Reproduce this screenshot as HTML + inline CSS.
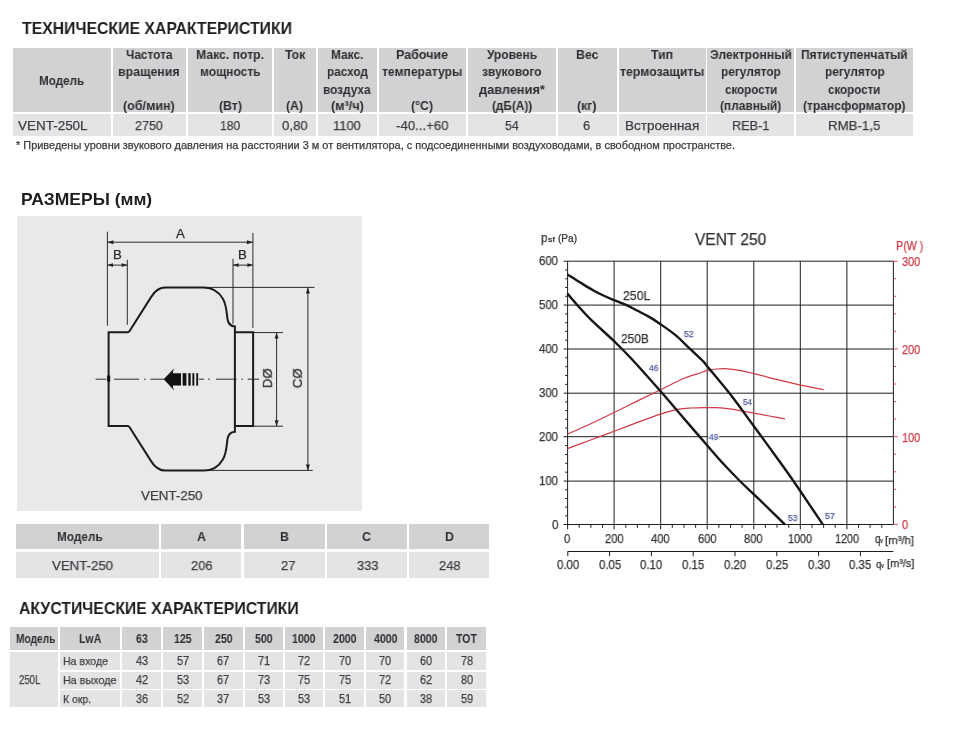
<!DOCTYPE html>
<html lang="ru"><head><meta charset="utf-8"><title>VENT-250</title>
<style>
html,body{margin:0;padding:0;background:#fff}
body{width:970px;height:739px;position:relative;overflow:hidden;font-family:"Liberation Sans", sans-serif}
.r{position:absolute}
.t{will-change:transform;position:absolute;white-space:nowrap;line-height:1;font-family:"Liberation Sans", sans-serif}
svg{position:absolute;left:0;top:0}
</style></head><body>
<div class="r" style="left:13.0px;top:48.0px;width:97.5px;height:64.0px;background:#d0d2d3"></div><div class="r" style="left:13.0px;top:114.0px;width:97.5px;height:22.4px;background:#e3e4e5"></div><div class="r" style="left:112.5px;top:48.0px;width:73.5px;height:64.0px;background:#d0d2d3"></div><div class="r" style="left:112.5px;top:114.0px;width:73.5px;height:22.4px;background:#e3e4e5"></div><div class="r" style="left:188.0px;top:48.0px;width:84.0px;height:64.0px;background:#d0d2d3"></div><div class="r" style="left:188.0px;top:114.0px;width:84.0px;height:22.4px;background:#e3e4e5"></div><div class="r" style="left:274.0px;top:48.0px;width:42.0px;height:64.0px;background:#d0d2d3"></div><div class="r" style="left:274.0px;top:114.0px;width:42.0px;height:22.4px;background:#e3e4e5"></div><div class="r" style="left:318.0px;top:48.0px;width:58.5px;height:64.0px;background:#d0d2d3"></div><div class="r" style="left:318.0px;top:114.0px;width:58.5px;height:22.4px;background:#e3e4e5"></div><div class="r" style="left:378.5px;top:48.0px;width:87.5px;height:64.0px;background:#d0d2d3"></div><div class="r" style="left:378.5px;top:114.0px;width:87.5px;height:22.4px;background:#e3e4e5"></div><div class="r" style="left:468.0px;top:48.0px;width:87.5px;height:64.0px;background:#d0d2d3"></div><div class="r" style="left:468.0px;top:114.0px;width:87.5px;height:22.4px;background:#e3e4e5"></div><div class="r" style="left:557.5px;top:48.0px;width:59.0px;height:64.0px;background:#d0d2d3"></div><div class="r" style="left:557.5px;top:114.0px;width:59.0px;height:22.4px;background:#e3e4e5"></div><div class="r" style="left:618.5px;top:48.0px;width:87.0px;height:64.0px;background:#d0d2d3"></div><div class="r" style="left:618.5px;top:114.0px;width:87.0px;height:22.4px;background:#e3e4e5"></div><div class="r" style="left:707.3px;top:48.0px;width:86.7px;height:64.0px;background:#d0d2d3"></div><div class="r" style="left:707.3px;top:114.0px;width:86.7px;height:22.4px;background:#e3e4e5"></div><div class="r" style="left:796.0px;top:48.0px;width:117.2px;height:64.0px;background:#d0d2d3"></div><div class="r" style="left:796.0px;top:114.0px;width:117.2px;height:22.4px;background:#e3e4e5"></div><div class="r" style="left:17.0px;top:216.0px;width:345.0px;height:295.0px;background:#e9e9ea"></div><div class="r" style="left:16.0px;top:523.6px;width:142.5px;height:25.0px;background:#d0d2d3"></div><div class="r" style="left:16.0px;top:552.0px;width:142.5px;height:26.0px;background:#e3e4e5"></div><div class="r" style="left:161.0px;top:523.6px;width:80.0px;height:25.0px;background:#d0d2d3"></div><div class="r" style="left:161.0px;top:552.0px;width:80.0px;height:26.0px;background:#e3e4e5"></div><div class="r" style="left:243.5px;top:523.6px;width:81.0px;height:25.0px;background:#d0d2d3"></div><div class="r" style="left:243.5px;top:552.0px;width:81.0px;height:26.0px;background:#e3e4e5"></div><div class="r" style="left:327.0px;top:523.6px;width:79.5px;height:25.0px;background:#d0d2d3"></div><div class="r" style="left:327.0px;top:552.0px;width:79.5px;height:26.0px;background:#e3e4e5"></div><div class="r" style="left:409.0px;top:523.6px;width:80.4px;height:25.0px;background:#d0d2d3"></div><div class="r" style="left:409.0px;top:552.0px;width:80.4px;height:26.0px;background:#e3e4e5"></div><div class="r" style="left:10.3px;top:627.4px;width:47.9px;height:22.4px;background:#d0d2d3"></div><div class="r" style="left:10.3px;top:652.0px;width:47.9px;height:54.5px;background:#e3e4e5"></div><div class="r" style="left:60.2px;top:627.4px;width:60.0px;height:22.4px;background:#d0d2d3"></div><div class="r" style="left:60.2px;top:652.0px;width:60.0px;height:18.0px;background:#e3e4e5"></div><div class="r" style="left:60.2px;top:671.5px;width:60.0px;height:17.0px;background:#e3e4e5"></div><div class="r" style="left:60.2px;top:690.0px;width:60.0px;height:16.5px;background:#e3e4e5"></div><div class="r" style="left:122.2px;top:627.4px;width:39.0px;height:22.4px;background:#d0d2d3"></div><div class="r" style="left:122.2px;top:652.0px;width:39.0px;height:18.0px;background:#e3e4e5"></div><div class="r" style="left:122.2px;top:671.5px;width:39.0px;height:17.0px;background:#e3e4e5"></div><div class="r" style="left:122.2px;top:690.0px;width:39.0px;height:16.5px;background:#e3e4e5"></div><div class="r" style="left:163.2px;top:627.4px;width:39.0px;height:22.4px;background:#d0d2d3"></div><div class="r" style="left:163.2px;top:652.0px;width:39.0px;height:18.0px;background:#e3e4e5"></div><div class="r" style="left:163.2px;top:671.5px;width:39.0px;height:17.0px;background:#e3e4e5"></div><div class="r" style="left:163.2px;top:690.0px;width:39.0px;height:16.5px;background:#e3e4e5"></div><div class="r" style="left:204.2px;top:627.4px;width:38.5px;height:22.4px;background:#d0d2d3"></div><div class="r" style="left:204.2px;top:652.0px;width:38.5px;height:18.0px;background:#e3e4e5"></div><div class="r" style="left:204.2px;top:671.5px;width:38.5px;height:17.0px;background:#e3e4e5"></div><div class="r" style="left:204.2px;top:690.0px;width:38.5px;height:16.5px;background:#e3e4e5"></div><div class="r" style="left:244.7px;top:627.4px;width:38.5px;height:22.4px;background:#d0d2d3"></div><div class="r" style="left:244.7px;top:652.0px;width:38.5px;height:18.0px;background:#e3e4e5"></div><div class="r" style="left:244.7px;top:671.5px;width:38.5px;height:17.0px;background:#e3e4e5"></div><div class="r" style="left:244.7px;top:690.0px;width:38.5px;height:16.5px;background:#e3e4e5"></div><div class="r" style="left:285.2px;top:627.4px;width:38.0px;height:22.4px;background:#d0d2d3"></div><div class="r" style="left:285.2px;top:652.0px;width:38.0px;height:18.0px;background:#e3e4e5"></div><div class="r" style="left:285.2px;top:671.5px;width:38.0px;height:17.0px;background:#e3e4e5"></div><div class="r" style="left:285.2px;top:690.0px;width:38.0px;height:16.5px;background:#e3e4e5"></div><div class="r" style="left:325.2px;top:627.4px;width:39.0px;height:22.4px;background:#d0d2d3"></div><div class="r" style="left:325.2px;top:652.0px;width:39.0px;height:18.0px;background:#e3e4e5"></div><div class="r" style="left:325.2px;top:671.5px;width:39.0px;height:17.0px;background:#e3e4e5"></div><div class="r" style="left:325.2px;top:690.0px;width:39.0px;height:16.5px;background:#e3e4e5"></div><div class="r" style="left:366.2px;top:627.4px;width:38.3px;height:22.4px;background:#d0d2d3"></div><div class="r" style="left:366.2px;top:652.0px;width:38.3px;height:18.0px;background:#e3e4e5"></div><div class="r" style="left:366.2px;top:671.5px;width:38.3px;height:17.0px;background:#e3e4e5"></div><div class="r" style="left:366.2px;top:690.0px;width:38.3px;height:16.5px;background:#e3e4e5"></div><div class="r" style="left:406.5px;top:627.4px;width:38.7px;height:22.4px;background:#d0d2d3"></div><div class="r" style="left:406.5px;top:652.0px;width:38.7px;height:18.0px;background:#e3e4e5"></div><div class="r" style="left:406.5px;top:671.5px;width:38.7px;height:17.0px;background:#e3e4e5"></div><div class="r" style="left:406.5px;top:690.0px;width:38.7px;height:16.5px;background:#e3e4e5"></div><div class="r" style="left:447.2px;top:627.4px;width:38.8px;height:22.4px;background:#d0d2d3"></div><div class="r" style="left:447.2px;top:652.0px;width:38.8px;height:18.0px;background:#e3e4e5"></div><div class="r" style="left:447.2px;top:671.5px;width:38.8px;height:17.0px;background:#e3e4e5"></div><div class="r" style="left:447.2px;top:690.0px;width:38.8px;height:16.5px;background:#e3e4e5"></div>
<svg width="970" height="739" viewBox="0 0 970 739">
<g stroke="#222" stroke-width="0.95" fill="none">
<line x1="107.4" y1="231.7" x2="107.4" y2="325.7"/>
<line x1="252.9" y1="233" x2="252.9" y2="328"/>
<line x1="127.3" y1="259.8" x2="127.3" y2="324.8"/>
<line x1="233" y1="258.8" x2="233" y2="323.8"/>
<line x1="107.4" y1="242.2" x2="252.9" y2="242.2"/>
<line x1="107.4" y1="265.1" x2="127.3" y2="265.1"/>
<line x1="233" y1="265.1" x2="252.9" y2="265.1"/>
<line x1="203.7" y1="287.4" x2="314.5" y2="287.4"/>
<line x1="208.8" y1="470.4" x2="312.7" y2="470.4"/>
<line x1="307.9" y1="287.4" x2="307.9" y2="470.4"/>
<line x1="253" y1="332.6" x2="283" y2="332.6"/>
<line x1="253" y1="426.2" x2="283" y2="426.2"/>
<line x1="276.6" y1="332.6" x2="276.6" y2="426.2"/>
<line x1="95.6" y1="379.2" x2="106.3" y2="379.2"/>
<line x1="114" y1="379.2" x2="139" y2="379.2"/>
<line x1="144" y1="379.2" x2="145.6" y2="379.2"/>
<line x1="150.3" y1="379.2" x2="164" y2="379.2"/>
<line x1="199" y1="379.2" x2="204" y2="379.2"/>
<line x1="208" y1="379.2" x2="209.6" y2="379.2"/>
<line x1="216" y1="379.2" x2="236.6" y2="379.2"/>
<line x1="241.3" y1="379.2" x2="242.9" y2="379.2"/>
<line x1="247.7" y1="379.2" x2="259" y2="379.2"/>
</g>
<g fill="#222">
<polygon points="107.4,242.2 113.4,240.2 113.4,244.2"/>
<polygon points="252.9,242.2 246.9,244.2 246.9,240.2"/>
<polygon points="107.4,265.1 113.0,263.2 113.0,267.0"/>
<polygon points="127.3,265.1 121.7,267.0 121.7,263.2"/>
<polygon points="233.0,265.1 238.6,263.2 238.6,267.0"/>
<polygon points="252.9,265.1 247.3,267.0 247.3,263.2"/>
<polygon points="307.9,287.4 309.9,293.4 305.9,293.4"/>
<polygon points="307.9,470.4 305.9,464.4 309.9,464.4"/>
<polygon points="276.6,332.6 278.6,338.6 274.6,338.6"/>
<polygon points="276.6,426.2 274.6,420.2 278.6,420.2"/>
</g>
<path d="M108.6,332.2 H127.6 Q128.9,332.2 129.6,331 L151.4,296.6 Q157.06,287.6 165.5,287.6 H203.7 C212,287.6 219,292 223,299 C226.5,305 226.5,312 227.4,318.5 C228,323 230,326.3 234.9,326.5 V431.7 C230,431.9 228,435.2 227.4,439.7 C226.5,446.2 226.5,453.2 223,459.2 C219,466.2 212,470.6 203.7,470.6 H165.5 Q157.06,470.6 151.4,461.6 L129.6,427.2 Q128.9,426.0 127.6,426.0 H108.6 Z" fill="none" stroke="#1c1c1c" stroke-width="2.0" stroke-linejoin="miter"/>
<path d="M234.9,332.2 H253.1 V426.0 H234.9" fill="none" stroke="#1c1c1c" stroke-width="2.0"/>
<rect x="107.1" y="375.6" width="3.1" height="6" fill="#111"/>
<g fill="#111">
<path d="M163.7,379.3 L174.2,368.3 Q172.6,371.5 172.9,373.2 H181 V385.6 H172.9 Q172.6,387.3 174.2,390.4 Z"/>
<rect x="182.6" y="373.2" width="3.8" height="12.4"/>
<rect x="188.3" y="373.2" width="2.4" height="12.4"/>
<rect x="192.4" y="373.2" width="1.9" height="12.4"/>
<rect x="196.3" y="373.2" width="1.8" height="12.4"/>
</g>
<g stroke="#1e1e1e" stroke-width="1" fill="none">
<line x1="567.6" y1="261.2" x2="567.6" y2="524.4"/>
<line x1="614.1" y1="261.2" x2="614.1" y2="524.4"/>
<line x1="660.7" y1="261.2" x2="660.7" y2="524.4"/>
<line x1="707.2" y1="261.2" x2="707.2" y2="524.4"/>
<line x1="753.8" y1="261.2" x2="753.8" y2="524.4"/>
<line x1="800.3" y1="261.2" x2="800.3" y2="524.4"/>
<line x1="846.9" y1="261.2" x2="846.9" y2="524.4"/>
<line x1="893.4" y1="261.2" x2="893.4" y2="524.4"/>
<line x1="563.6" y1="524.5" x2="893.4" y2="524.5"/>
<line x1="563.6" y1="481.1" x2="893.4" y2="481.1"/>
<line x1="563.6" y1="436.7" x2="893.4" y2="436.7"/>
<line x1="563.6" y1="393.2" x2="893.4" y2="393.2"/>
<line x1="563.6" y1="349.0" x2="893.4" y2="349.0"/>
<line x1="563.6" y1="305.1" x2="893.4" y2="305.1"/>
<line x1="563.6" y1="261.2" x2="893.4" y2="261.2"/>
<line x1="565.2" y1="515.8" x2="567.6" y2="515.8"/>
<line x1="565.2" y1="507.1" x2="567.6" y2="507.1"/>
<line x1="565.2" y1="498.5" x2="567.6" y2="498.5"/>
<line x1="565.2" y1="489.8" x2="567.6" y2="489.8"/>
<line x1="565.2" y1="472.2" x2="567.6" y2="472.2"/>
<line x1="565.2" y1="463.3" x2="567.6" y2="463.3"/>
<line x1="565.2" y1="454.5" x2="567.6" y2="454.5"/>
<line x1="565.2" y1="445.6" x2="567.6" y2="445.6"/>
<line x1="565.2" y1="428.0" x2="567.6" y2="428.0"/>
<line x1="565.2" y1="419.3" x2="567.6" y2="419.3"/>
<line x1="565.2" y1="410.6" x2="567.6" y2="410.6"/>
<line x1="565.2" y1="401.9" x2="567.6" y2="401.9"/>
<line x1="565.2" y1="384.4" x2="567.6" y2="384.4"/>
<line x1="565.2" y1="375.5" x2="567.6" y2="375.5"/>
<line x1="565.2" y1="366.7" x2="567.6" y2="366.7"/>
<line x1="565.2" y1="357.8" x2="567.6" y2="357.8"/>
<line x1="565.2" y1="340.2" x2="567.6" y2="340.2"/>
<line x1="565.2" y1="331.4" x2="567.6" y2="331.4"/>
<line x1="565.2" y1="322.7" x2="567.6" y2="322.7"/>
<line x1="565.2" y1="313.9" x2="567.6" y2="313.9"/>
<line x1="565.2" y1="296.3" x2="567.6" y2="296.3"/>
<line x1="565.2" y1="287.5" x2="567.6" y2="287.5"/>
<line x1="565.2" y1="278.8" x2="567.6" y2="278.8"/>
<line x1="565.2" y1="270.0" x2="567.6" y2="270.0"/>
<line x1="567.6" y1="524.4" x2="567.6" y2="529.4"/>
<line x1="579.2" y1="524.4" x2="579.2" y2="527.8"/>
<line x1="590.9" y1="524.4" x2="590.9" y2="527.8"/>
<line x1="602.5" y1="524.4" x2="602.5" y2="527.8"/>
<line x1="614.1" y1="524.4" x2="614.1" y2="529.4"/>
<line x1="625.8" y1="524.4" x2="625.8" y2="527.8"/>
<line x1="637.4" y1="524.4" x2="637.4" y2="527.8"/>
<line x1="649.0" y1="524.4" x2="649.0" y2="527.8"/>
<line x1="660.7" y1="524.4" x2="660.7" y2="529.4"/>
<line x1="672.3" y1="524.4" x2="672.3" y2="527.8"/>
<line x1="684.0" y1="524.4" x2="684.0" y2="527.8"/>
<line x1="695.6" y1="524.4" x2="695.6" y2="527.8"/>
<line x1="707.2" y1="524.4" x2="707.2" y2="529.4"/>
<line x1="718.9" y1="524.4" x2="718.9" y2="527.8"/>
<line x1="730.5" y1="524.4" x2="730.5" y2="527.8"/>
<line x1="742.1" y1="524.4" x2="742.1" y2="527.8"/>
<line x1="753.8" y1="524.4" x2="753.8" y2="529.4"/>
<line x1="765.4" y1="524.4" x2="765.4" y2="527.8"/>
<line x1="777.0" y1="524.4" x2="777.0" y2="527.8"/>
<line x1="788.7" y1="524.4" x2="788.7" y2="527.8"/>
<line x1="800.3" y1="524.4" x2="800.3" y2="529.4"/>
<line x1="812.0" y1="524.4" x2="812.0" y2="527.8"/>
<line x1="823.6" y1="524.4" x2="823.6" y2="527.8"/>
<line x1="835.2" y1="524.4" x2="835.2" y2="527.8"/>
<line x1="846.9" y1="524.4" x2="846.9" y2="529.4"/>
<line x1="858.5" y1="524.4" x2="858.5" y2="527.8"/>
<line x1="870.1" y1="524.4" x2="870.1" y2="527.8"/>
<line x1="881.8" y1="524.4" x2="881.8" y2="527.8"/>
<line x1="567.6" y1="551.5" x2="893.4" y2="551.5"/>
<line x1="567.8" y1="551.5" x2="567.8" y2="556.2"/>
<line x1="609.6" y1="551.5" x2="609.6" y2="556.2"/>
<line x1="651.4" y1="551.5" x2="651.4" y2="556.2"/>
<line x1="693.2" y1="551.5" x2="693.2" y2="556.2"/>
<line x1="735.0" y1="551.5" x2="735.0" y2="556.2"/>
<line x1="776.8" y1="551.5" x2="776.8" y2="556.2"/>
<line x1="818.6" y1="551.5" x2="818.6" y2="556.2"/>
<line x1="860.4" y1="551.5" x2="860.4" y2="556.2"/>
</g>
<rect x="708.3" y="433" width="10.9" height="8" fill="#fff"/>
<g stroke="#cf3a45" stroke-width="0.9">
<line x1="893.4" y1="524.4" x2="897.8" y2="524.4"/>
<line x1="893.4" y1="506.9" x2="896.1999999999999" y2="506.9"/>
<line x1="893.4" y1="489.3" x2="896.1999999999999" y2="489.3"/>
<line x1="893.4" y1="471.8" x2="896.1999999999999" y2="471.8"/>
<line x1="893.4" y1="454.2" x2="896.1999999999999" y2="454.2"/>
<line x1="893.4" y1="436.7" x2="897.8" y2="436.7"/>
<line x1="893.4" y1="419.1" x2="896.1999999999999" y2="419.1"/>
<line x1="893.4" y1="401.6" x2="896.1999999999999" y2="401.6"/>
<line x1="893.4" y1="384.0" x2="896.1999999999999" y2="384.0"/>
<line x1="893.4" y1="366.5" x2="896.1999999999999" y2="366.5"/>
<line x1="893.4" y1="348.9" x2="897.8" y2="348.9"/>
<line x1="893.4" y1="331.4" x2="896.1999999999999" y2="331.4"/>
<line x1="893.4" y1="313.8" x2="896.1999999999999" y2="313.8"/>
<line x1="893.4" y1="296.3" x2="896.1999999999999" y2="296.3"/>
<line x1="893.4" y1="278.7" x2="896.1999999999999" y2="278.7"/>
<line x1="893.4" y1="261.2" x2="897.8" y2="261.2"/>
</g>
<path d="M567.4,434.2 C571.4,432.4 583.5,427.1 591.3,423.5 C599.1,419.9 606.4,416.3 614.1,412.5 C621.8,408.7 629.8,404.7 637.5,400.9 C645.2,397.1 652.9,393.4 660.6,389.7 C668.3,386.0 677.1,381.3 683.7,378.5 C690.3,375.7 696.0,374.4 700.0,373.0 C704.0,371.6 704.8,371.1 707.5,370.4 C710.2,369.7 713.6,369.3 716.5,369.0 C719.4,368.7 721.4,368.5 724.7,368.6 C728.0,368.7 731.4,369.0 736.3,369.8 C741.2,370.6 747.2,372.0 754.1,373.6 C761.0,375.2 769.8,377.8 777.5,379.7 C785.2,381.6 792.9,383.5 800.6,385.1 C808.3,386.8 819.9,388.9 823.7,389.6" fill="none" stroke="#d23a46" stroke-width="1.2"/>
<path d="M567.4,448.6 C571.4,447.1 583.5,442.6 591.3,439.7 C599.1,436.8 606.4,434.2 614.1,431.3 C621.8,428.4 629.8,425.3 637.5,422.4 C645.2,419.5 653.7,416.3 660.6,414.1 C667.5,411.9 673.6,410.2 678.8,409.2 C684.0,408.2 687.2,408.3 692.0,408.0 C696.8,407.7 703.5,407.7 707.6,407.6 C711.7,407.6 712.8,407.5 716.5,407.7 C720.2,407.9 725.3,408.3 729.7,408.9 C734.1,409.5 738.8,410.5 742.9,411.2 C747.0,411.9 749.7,412.4 754.1,413.2 C758.5,414.0 764.1,415.1 769.3,416.0 C774.4,416.9 782.4,418.3 785.0,418.8" fill="none" stroke="#d23a46" stroke-width="1.2"/>
<path d="M567.4,274.5 C569.5,275.8 575.5,279.7 579.8,282.3 C584.1,284.9 588.9,287.9 593.0,290.2 C597.1,292.5 601.0,294.4 604.5,296.0 C608.0,297.6 610.5,298.6 614.1,300.1 C617.7,301.6 622.1,303.1 626.0,304.9 C629.9,306.7 633.6,308.8 637.5,310.8 C641.4,312.8 645.2,314.6 649.1,316.9 C653.0,319.1 656.2,321.3 660.6,324.3 C665.0,327.3 670.5,331.0 675.5,335.1 C680.5,339.2 685.9,345.0 690.3,349.1 C694.7,353.2 699.0,357.1 701.9,360.0 C704.8,362.9 702.8,360.9 707.4,366.5 C712.0,372.1 721.9,383.6 729.7,393.6 C737.5,403.6 745.3,414.5 754.1,426.5 C762.9,438.5 774.8,454.8 782.5,465.5 C790.2,476.2 793.6,481.1 800.3,491.0 C807.0,500.9 819.1,519.0 822.9,524.6" fill="none" stroke="#161616" stroke-width="2.4"/>
<path d="M567.4,293.5 C569.3,295.8 574.7,302.3 579.0,307.0 C583.3,311.7 587.1,316.0 593.0,321.7 C598.9,327.4 607.5,334.8 614.1,341.2 C620.7,347.6 624.9,351.6 632.6,360.0 C640.4,368.4 652.9,382.6 660.6,391.3 C668.3,400.1 671.0,403.4 678.8,412.5 C686.6,421.6 699.9,437.0 707.5,445.8 C715.1,454.6 719.2,459.4 724.7,465.3 C730.2,471.2 735.5,476.6 740.4,481.5 C745.3,486.4 749.0,489.7 754.1,494.6 C759.2,499.5 765.8,505.8 770.9,510.8 C776.0,515.8 782.6,522.3 785.0,524.6" fill="none" stroke="#161616" stroke-width="2.4"/>
</svg>
<span class="t" style="left:21.60px;top:19.51px;font-size:17px;font-weight:bold;color:#1e1e1f;transform-origin:0 0;transform:scaleX(0.9289)">ТЕХНИЧЕСКИЕ ХАРАКТЕРИСТИКИ</span><span class="t" style="left:20.80px;top:191.31px;font-size:17px;font-weight:bold;color:#1e1e1f;transform-origin:0 0;transform:scaleX(1.0294)">РАЗМЕРЫ (мм)</span><span class="t" style="left:19.20px;top:599.51px;font-size:17px;font-weight:bold;color:#1e1e1f;transform-origin:0 0;transform:scaleX(0.9286)">АКУСТИЧЕСКИЕ ХАРАКТЕРИСТИКИ</span><span class="t" style="left:39.15px;top:73.60px;font-size:13px;font-weight:bold;color:#2e2e31;transform-origin:0 0;transform:scaleX(0.8998)">Модель</span><span class="t" style="left:126.00px;top:48.30px;font-size:13px;font-weight:bold;color:#2e2e31;transform-origin:0 0;transform:scaleX(0.9115)">Частота</span><span class="t" style="left:118.45px;top:65.40px;font-size:13px;font-weight:bold;color:#2e2e31;transform-origin:0 0;transform:scaleX(0.9507)">вращения</span><span class="t" style="left:123.35px;top:98.60px;font-size:13px;font-weight:bold;color:#2e2e31;transform-origin:0 0;transform:scaleX(0.9646)">(об/мин)</span><span class="t" style="left:196.00px;top:48.30px;font-size:13px;font-weight:bold;color:#2e2e31;transform-origin:0 0;transform:scaleX(0.9391)">Макс. потр.</span><span class="t" style="left:199.70px;top:65.40px;font-size:13px;font-weight:bold;color:#2e2e31;transform-origin:0 0;transform:scaleX(0.9241)">мощность</span><span class="t" style="left:218.54px;top:98.60px;font-size:13px;font-weight:bold;color:#2e2e31;transform-origin:0 0;transform:scaleX(0.9450)">(Вт)</span><span class="t" style="left:284.80px;top:48.30px;font-size:13px;font-weight:bold;color:#2e2e31;transform-origin:0 0;transform:scaleX(0.9450)">Ток</span><span class="t" style="left:286.47px;top:98.60px;font-size:13px;font-weight:bold;color:#2e2e31;transform-origin:0 0;transform:scaleX(0.9450)">(А)</span><span class="t" style="left:331.00px;top:48.30px;font-size:13px;font-weight:bold;color:#2e2e31;transform-origin:0 0;transform:scaleX(0.9179)">Макс.</span><span class="t" style="left:326.85px;top:65.40px;font-size:13px;font-weight:bold;color:#2e2e31;transform-origin:0 0;transform:scaleX(0.9032)">расход</span><span class="t" style="left:323.40px;top:82.50px;font-size:13px;font-weight:bold;color:#2e2e31;transform-origin:0 0;transform:scaleX(0.9118)">воздуха</span><span class="t" style="left:330.85px;top:98.60px;font-size:13px;font-weight:bold;color:#2e2e31;transform-origin:0 0;transform:scaleX(0.9714)">(м³/ч)</span><span class="t" style="left:396.25px;top:48.30px;font-size:13px;font-weight:bold;color:#2e2e31;transform-origin:0 0;transform:scaleX(0.9602)">Рабочие</span><span class="t" style="left:382.05px;top:65.40px;font-size:13px;font-weight:bold;color:#2e2e31;transform-origin:0 0;transform:scaleX(0.9339)">температуры</span><span class="t" style="left:411.26px;top:98.60px;font-size:13px;font-weight:bold;color:#2e2e31;transform-origin:0 0;transform:scaleX(0.9450)">(°С)</span><span class="t" style="left:486.70px;top:48.30px;font-size:13px;font-weight:bold;color:#2e2e31;transform-origin:0 0;transform:scaleX(0.9214)">Уровень</span><span class="t" style="left:482.05px;top:65.40px;font-size:13px;font-weight:bold;color:#2e2e31;transform-origin:0 0;transform:scaleX(0.9196)">звукового</span><span class="t" style="left:478.80px;top:82.50px;font-size:13px;font-weight:bold;color:#2e2e31;transform-origin:0 0;transform:scaleX(0.9820)">давления*</span><span class="t" style="left:491.65px;top:98.60px;font-size:13px;font-weight:bold;color:#2e2e31;transform-origin:0 0;transform:scaleX(0.9072)">(дБ(А))</span><span class="t" style="left:575.81px;top:48.30px;font-size:13px;font-weight:bold;color:#2e2e31;transform-origin:0 0;transform:scaleX(0.9450)">Вес</span><span class="t" style="left:577.27px;top:98.60px;font-size:13px;font-weight:bold;color:#2e2e31;transform-origin:0 0;transform:scaleX(0.9450)">(кг)</span><span class="t" style="left:650.99px;top:48.30px;font-size:13px;font-weight:bold;color:#2e2e31;transform-origin:0 0;transform:scaleX(0.9450)">Тип</span><span class="t" style="left:619.95px;top:65.40px;font-size:13px;font-weight:bold;color:#2e2e31;transform-origin:0 0;transform:scaleX(0.9499)">термозащиты</span><span class="t" style="left:709.65px;top:48.30px;font-size:13px;font-weight:bold;color:#2e2e31;transform-origin:0 0;transform:scaleX(0.9340)">Электронный</span><span class="t" style="left:720.75px;top:65.40px;font-size:13px;font-weight:bold;color:#2e2e31;transform-origin:0 0;transform:scaleX(0.9119)">регулятор</span><span class="t" style="left:724.50px;top:82.50px;font-size:13px;font-weight:bold;color:#2e2e31;transform-origin:0 0;transform:scaleX(0.8893)">скорости</span><span class="t" style="left:720.00px;top:98.60px;font-size:13px;font-weight:bold;color:#2e2e31;transform-origin:0 0;transform:scaleX(0.9158)">(плавный)</span><span class="t" style="left:801.25px;top:48.30px;font-size:13px;font-weight:bold;color:#2e2e31;transform-origin:0 0;transform:scaleX(0.9228)">Пятиступенчатый</span><span class="t" style="left:824.70px;top:65.40px;font-size:13px;font-weight:bold;color:#2e2e31;transform-origin:0 0;transform:scaleX(0.9119)">регулятор</span><span class="t" style="left:828.45px;top:82.50px;font-size:13px;font-weight:bold;color:#2e2e31;transform-origin:0 0;transform:scaleX(0.8893)">скорости</span><span class="t" style="left:803.35px;top:98.60px;font-size:13px;font-weight:bold;color:#2e2e31;transform-origin:0 0;transform:scaleX(0.9238)">(трансформатор)</span><span class="t" style="left:18.20px;top:118.86px;font-size:13.4px;-webkit-text-stroke:0.25px #3e3e41;color:#3e3e41;transform-origin:0 0;transform:scaleX(1.0053)">VENT-250L</span><span class="t" style="left:135.30px;top:118.86px;font-size:13.4px;-webkit-text-stroke:0.25px #3e3e41;color:#3e3e41;transform-origin:0 0;transform:scaleX(0.9363)">2750</span><span class="t" style="left:219.95px;top:118.86px;font-size:13.4px;-webkit-text-stroke:0.25px #3e3e41;color:#3e3e41;transform-origin:0 0;transform:scaleX(0.8996)">180</span><span class="t" style="left:282.15px;top:118.86px;font-size:13.4px;-webkit-text-stroke:0.25px #3e3e41;color:#3e3e41;transform-origin:0 0;transform:scaleX(0.9861)">0,80</span><span class="t" style="left:333.30px;top:118.86px;font-size:13.4px;-webkit-text-stroke:0.25px #3e3e41;color:#3e3e41;transform-origin:0 0;transform:scaleX(0.9689)">1100</span><span class="t" style="left:395.95px;top:118.86px;font-size:13.4px;-webkit-text-stroke:0.25px #3e3e41;color:#3e3e41;transform-origin:0 0;transform:scaleX(0.9881)">-40...+60</span><span class="t" style="left:504.95px;top:118.86px;font-size:13.4px;-webkit-text-stroke:0.25px #3e3e41;color:#3e3e41;transform-origin:0 0;transform:scaleX(0.9124)">54</span><span class="t" style="left:583.42px;top:118.86px;font-size:13.4px;-webkit-text-stroke:0.25px #3e3e41;color:#3e3e41;transform-origin:0 0;transform:scaleX(0.9600)">6</span><span class="t" style="left:624.90px;top:118.86px;font-size:13.4px;-webkit-text-stroke:0.25px #3e3e41;color:#3e3e41;transform-origin:0 0;transform:scaleX(1.0082)">Встроенная</span><span class="t" style="left:731.95px;top:118.86px;font-size:13.4px;-webkit-text-stroke:0.25px #3e3e41;color:#3e3e41;transform-origin:0 0;transform:scaleX(0.9480)">REB-1</span><span class="t" style="left:828.45px;top:118.86px;font-size:13.4px;-webkit-text-stroke:0.25px #3e3e41;color:#3e3e41;transform-origin:0 0;transform:scaleX(0.9897)">RMB-1,5</span><span class="t" style="left:16.20px;top:139.83px;font-size:10.6px;-webkit-text-stroke:0.25px #3c3c3e;color:#3c3c3e;transform-origin:0 0;transform:scaleX(1.0329)">* Приведены уровни звукового давления на расстоянии 3 м от вентилятора, с подсоединенными воздуховодами, в свободном пространстве.</span><span class="t" style="left:140.75px;top:489.06px;font-size:13.4px;-webkit-text-stroke:0.25px #3e3e41;color:#3e3e41;transform-origin:0 0;transform:scaleX(0.9954)">VENT-250</span><span class="t" style="left:57.20px;top:530.20px;font-size:13px;font-weight:bold;color:#2e2e31;transform-origin:0 0;transform:scaleX(0.9097)">Модель</span><span class="t" style="left:52.35px;top:559.16px;font-size:13.4px;-webkit-text-stroke:0.25px #3e3e41;color:#3e3e41;transform-origin:0 0;transform:scaleX(0.9890)">VENT-250</span><span class="t" style="left:196.56px;top:530.20px;font-size:13px;font-weight:bold;color:#2e2e31;transform-origin:0 0;transform:scaleX(0.9450)">A</span><span class="t" style="left:190.78px;top:559.16px;font-size:13.4px;-webkit-text-stroke:0.25px #3e3e41;color:#3e3e41;transform-origin:0 0;transform:scaleX(0.9600)">206</span><span class="t" style="left:279.56px;top:530.20px;font-size:13px;font-weight:bold;color:#2e2e31;transform-origin:0 0;transform:scaleX(0.9450)">B</span><span class="t" style="left:281.35px;top:559.16px;font-size:13.4px;-webkit-text-stroke:0.25px #3e3e41;color:#3e3e41;transform-origin:0 0;transform:scaleX(0.9600)">27</span><span class="t" style="left:362.31px;top:530.20px;font-size:13px;font-weight:bold;color:#2e2e31;transform-origin:0 0;transform:scaleX(0.9450)">C</span><span class="t" style="left:356.52px;top:559.16px;font-size:13.4px;-webkit-text-stroke:0.25px #3e3e41;color:#3e3e41;transform-origin:0 0;transform:scaleX(0.9600)">333</span><span class="t" style="left:444.76px;top:530.20px;font-size:13px;font-weight:bold;color:#2e2e31;transform-origin:0 0;transform:scaleX(0.9450)">D</span><span class="t" style="left:438.97px;top:559.16px;font-size:13.4px;-webkit-text-stroke:0.25px #3e3e41;color:#3e3e41;transform-origin:0 0;transform:scaleX(0.9600)">248</span><span class="t" style="left:15.50px;top:632.64px;font-size:12px;font-weight:bold;color:#2e2e31;transform-origin:0 0;transform:scaleX(0.8479)">Модель</span><span class="t" style="left:79.05px;top:632.64px;font-size:12px;font-weight:bold;color:#2e2e31;transform-origin:0 0;transform:scaleX(0.8800)">LwA</span><span class="t" style="left:135.82px;top:632.64px;font-size:12px;font-weight:bold;color:#2e2e31;transform-origin:0 0;transform:scaleX(0.8800)">63</span><span class="t" style="left:173.89px;top:632.64px;font-size:12px;font-weight:bold;color:#2e2e31;transform-origin:0 0;transform:scaleX(0.8800)">125</span><span class="t" style="left:214.64px;top:632.64px;font-size:12px;font-weight:bold;color:#2e2e31;transform-origin:0 0;transform:scaleX(0.8800)">250</span><span class="t" style="left:255.14px;top:632.64px;font-size:12px;font-weight:bold;color:#2e2e31;transform-origin:0 0;transform:scaleX(0.8800)">500</span><span class="t" style="left:292.45px;top:632.64px;font-size:12px;font-weight:bold;color:#2e2e31;transform-origin:0 0;transform:scaleX(0.8800)">1000</span><span class="t" style="left:332.95px;top:632.64px;font-size:12px;font-weight:bold;color:#2e2e31;transform-origin:0 0;transform:scaleX(0.8800)">2000</span><span class="t" style="left:373.60px;top:632.64px;font-size:12px;font-weight:bold;color:#2e2e31;transform-origin:0 0;transform:scaleX(0.8800)">4000</span><span class="t" style="left:414.10px;top:632.64px;font-size:12px;font-weight:bold;color:#2e2e31;transform-origin:0 0;transform:scaleX(0.8800)">8000</span><span class="t" style="left:456.14px;top:632.64px;font-size:12px;font-weight:bold;color:#2e2e31;transform-origin:0 0;transform:scaleX(0.8800)">TOT</span><span class="t" style="left:18.55px;top:673.94px;font-size:12px;-webkit-text-stroke:0.25px #3e3e41;color:#3e3e41;transform-origin:0 0;transform:scaleX(0.7977)">250L</span><span class="t" style="left:62.60px;top:655.38px;font-size:11.6px;-webkit-text-stroke:0.25px #3e3e41;color:#3e3e41;transform-origin:0 0;transform:scaleX(0.9152)">На входе</span><span class="t" style="left:135.69px;top:655.04px;font-size:12px;-webkit-text-stroke:0.25px #3e3e41;color:#3e3e41;transform-origin:0 0;transform:scaleX(0.9000)">43</span><span class="t" style="left:176.69px;top:655.04px;font-size:12px;-webkit-text-stroke:0.25px #3e3e41;color:#3e3e41;transform-origin:0 0;transform:scaleX(0.9000)">57</span><span class="t" style="left:217.44px;top:655.04px;font-size:12px;-webkit-text-stroke:0.25px #3e3e41;color:#3e3e41;transform-origin:0 0;transform:scaleX(0.9000)">67</span><span class="t" style="left:257.94px;top:655.04px;font-size:12px;-webkit-text-stroke:0.25px #3e3e41;color:#3e3e41;transform-origin:0 0;transform:scaleX(0.9000)">71</span><span class="t" style="left:298.19px;top:655.04px;font-size:12px;-webkit-text-stroke:0.25px #3e3e41;color:#3e3e41;transform-origin:0 0;transform:scaleX(0.9000)">72</span><span class="t" style="left:338.69px;top:655.04px;font-size:12px;-webkit-text-stroke:0.25px #3e3e41;color:#3e3e41;transform-origin:0 0;transform:scaleX(0.9000)">70</span><span class="t" style="left:379.34px;top:655.04px;font-size:12px;-webkit-text-stroke:0.25px #3e3e41;color:#3e3e41;transform-origin:0 0;transform:scaleX(0.9000)">70</span><span class="t" style="left:419.84px;top:655.04px;font-size:12px;-webkit-text-stroke:0.25px #3e3e41;color:#3e3e41;transform-origin:0 0;transform:scaleX(0.9000)">60</span><span class="t" style="left:460.59px;top:655.04px;font-size:12px;-webkit-text-stroke:0.25px #3e3e41;color:#3e3e41;transform-origin:0 0;transform:scaleX(0.9000)">78</span><span class="t" style="left:62.60px;top:674.28px;font-size:11.6px;-webkit-text-stroke:0.25px #3e3e41;color:#3e3e41;transform-origin:0 0;transform:scaleX(0.9269)">На выходе</span><span class="t" style="left:135.69px;top:673.94px;font-size:12px;-webkit-text-stroke:0.25px #3e3e41;color:#3e3e41;transform-origin:0 0;transform:scaleX(0.9000)">42</span><span class="t" style="left:176.69px;top:673.94px;font-size:12px;-webkit-text-stroke:0.25px #3e3e41;color:#3e3e41;transform-origin:0 0;transform:scaleX(0.9000)">53</span><span class="t" style="left:217.44px;top:673.94px;font-size:12px;-webkit-text-stroke:0.25px #3e3e41;color:#3e3e41;transform-origin:0 0;transform:scaleX(0.9000)">67</span><span class="t" style="left:257.94px;top:673.94px;font-size:12px;-webkit-text-stroke:0.25px #3e3e41;color:#3e3e41;transform-origin:0 0;transform:scaleX(0.9000)">73</span><span class="t" style="left:298.19px;top:673.94px;font-size:12px;-webkit-text-stroke:0.25px #3e3e41;color:#3e3e41;transform-origin:0 0;transform:scaleX(0.9000)">75</span><span class="t" style="left:338.69px;top:673.94px;font-size:12px;-webkit-text-stroke:0.25px #3e3e41;color:#3e3e41;transform-origin:0 0;transform:scaleX(0.9000)">75</span><span class="t" style="left:379.34px;top:673.94px;font-size:12px;-webkit-text-stroke:0.25px #3e3e41;color:#3e3e41;transform-origin:0 0;transform:scaleX(0.9000)">72</span><span class="t" style="left:419.84px;top:673.94px;font-size:12px;-webkit-text-stroke:0.25px #3e3e41;color:#3e3e41;transform-origin:0 0;transform:scaleX(0.9000)">62</span><span class="t" style="left:460.59px;top:673.94px;font-size:12px;-webkit-text-stroke:0.25px #3e3e41;color:#3e3e41;transform-origin:0 0;transform:scaleX(0.9000)">80</span><span class="t" style="left:62.60px;top:692.98px;font-size:11.6px;-webkit-text-stroke:0.25px #3e3e41;color:#3e3e41;transform-origin:0 0;transform:scaleX(0.9015)">К окр.</span><span class="t" style="left:135.69px;top:692.64px;font-size:12px;-webkit-text-stroke:0.25px #3e3e41;color:#3e3e41;transform-origin:0 0;transform:scaleX(0.9000)">36</span><span class="t" style="left:176.69px;top:692.64px;font-size:12px;-webkit-text-stroke:0.25px #3e3e41;color:#3e3e41;transform-origin:0 0;transform:scaleX(0.9000)">52</span><span class="t" style="left:217.44px;top:692.64px;font-size:12px;-webkit-text-stroke:0.25px #3e3e41;color:#3e3e41;transform-origin:0 0;transform:scaleX(0.9000)">37</span><span class="t" style="left:257.94px;top:692.64px;font-size:12px;-webkit-text-stroke:0.25px #3e3e41;color:#3e3e41;transform-origin:0 0;transform:scaleX(0.9000)">53</span><span class="t" style="left:298.19px;top:692.64px;font-size:12px;-webkit-text-stroke:0.25px #3e3e41;color:#3e3e41;transform-origin:0 0;transform:scaleX(0.9000)">53</span><span class="t" style="left:338.69px;top:692.64px;font-size:12px;-webkit-text-stroke:0.25px #3e3e41;color:#3e3e41;transform-origin:0 0;transform:scaleX(0.9000)">51</span><span class="t" style="left:379.34px;top:692.64px;font-size:12px;-webkit-text-stroke:0.25px #3e3e41;color:#3e3e41;transform-origin:0 0;transform:scaleX(0.9000)">50</span><span class="t" style="left:419.84px;top:692.64px;font-size:12px;-webkit-text-stroke:0.25px #3e3e41;color:#3e3e41;transform-origin:0 0;transform:scaleX(0.9000)">38</span><span class="t" style="left:460.59px;top:692.64px;font-size:12px;-webkit-text-stroke:0.25px #3e3e41;color:#3e3e41;transform-origin:0 0;transform:scaleX(0.9000)">59</span><span class="t" style="left:551.85px;top:518.74px;font-size:12px;-webkit-text-stroke:0.25px #333335;color:#333335;transform-origin:0 0;transform:scaleX(0.9500)">0</span><span class="t" style="left:539.17px;top:475.34px;font-size:12px;-webkit-text-stroke:0.25px #333335;color:#333335;transform-origin:0 0;transform:scaleX(0.9500)">100</span><span class="t" style="left:539.17px;top:430.94px;font-size:12px;-webkit-text-stroke:0.25px #333335;color:#333335;transform-origin:0 0;transform:scaleX(0.9500)">200</span><span class="t" style="left:539.17px;top:387.44px;font-size:12px;-webkit-text-stroke:0.25px #333335;color:#333335;transform-origin:0 0;transform:scaleX(0.9500)">300</span><span class="t" style="left:539.17px;top:343.24px;font-size:12px;-webkit-text-stroke:0.25px #333335;color:#333335;transform-origin:0 0;transform:scaleX(0.9500)">400</span><span class="t" style="left:539.17px;top:299.34px;font-size:12px;-webkit-text-stroke:0.25px #333335;color:#333335;transform-origin:0 0;transform:scaleX(0.9500)">500</span><span class="t" style="left:539.17px;top:255.44px;font-size:12px;-webkit-text-stroke:0.25px #333335;color:#333335;transform-origin:0 0;transform:scaleX(0.9500)">600</span><span class="t" style="left:564.49px;top:532.94px;font-size:12px;-webkit-text-stroke:0.25px #333335;color:#333335;transform-origin:0 0;transform:scaleX(0.9300)">0</span><span class="t" style="left:604.83px;top:532.94px;font-size:12px;-webkit-text-stroke:0.25px #333335;color:#333335;transform-origin:0 0;transform:scaleX(0.9300)">200</span><span class="t" style="left:651.37px;top:532.94px;font-size:12px;-webkit-text-stroke:0.25px #333335;color:#333335;transform-origin:0 0;transform:scaleX(0.9300)">400</span><span class="t" style="left:697.91px;top:532.94px;font-size:12px;-webkit-text-stroke:0.25px #333335;color:#333335;transform-origin:0 0;transform:scaleX(0.9300)">600</span><span class="t" style="left:744.46px;top:532.94px;font-size:12px;-webkit-text-stroke:0.25px #333335;color:#333335;transform-origin:0 0;transform:scaleX(0.9300)">800</span><span class="t" style="left:788.30px;top:532.94px;font-size:12px;-webkit-text-stroke:0.25px #333335;color:#333335;transform-origin:0 0;transform:scaleX(0.9000)">1000</span><span class="t" style="left:834.84px;top:532.94px;font-size:12px;-webkit-text-stroke:0.25px #333335;color:#333335;transform-origin:0 0;transform:scaleX(0.9000)">1200</span><span class="t" style="left:556.70px;top:558.70px;font-size:12.4px;-webkit-text-stroke:0.25px #333335;color:#333335;transform-origin:0 0;transform:scaleX(0.9200)">0.00</span><span class="t" style="left:598.50px;top:558.70px;font-size:12.4px;-webkit-text-stroke:0.25px #333335;color:#333335;transform-origin:0 0;transform:scaleX(0.9200)">0.05</span><span class="t" style="left:640.30px;top:558.70px;font-size:12.4px;-webkit-text-stroke:0.25px #333335;color:#333335;transform-origin:0 0;transform:scaleX(0.9200)">0.10</span><span class="t" style="left:682.10px;top:558.70px;font-size:12.4px;-webkit-text-stroke:0.25px #333335;color:#333335;transform-origin:0 0;transform:scaleX(0.9200)">0.15</span><span class="t" style="left:723.90px;top:558.70px;font-size:12.4px;-webkit-text-stroke:0.25px #333335;color:#333335;transform-origin:0 0;transform:scaleX(0.9200)">0.20</span><span class="t" style="left:765.70px;top:558.70px;font-size:12.4px;-webkit-text-stroke:0.25px #333335;color:#333335;transform-origin:0 0;transform:scaleX(0.9200)">0.25</span><span class="t" style="left:807.50px;top:558.70px;font-size:12.4px;-webkit-text-stroke:0.25px #333335;color:#333335;transform-origin:0 0;transform:scaleX(0.9200)">0.30</span><span class="t" style="left:849.30px;top:558.70px;font-size:12.4px;-webkit-text-stroke:0.25px #333335;color:#333335;transform-origin:0 0;transform:scaleX(0.9200)">0.35</span><span class="t" style="left:695.35px;top:231.85px;font-size:16.6px;-webkit-text-stroke:0.25px #2f2f31;color:#2f2f31;transform-origin:0 0;transform:scaleX(0.9349)">VENT 250</span><span class="t" style="left:623.20px;top:289.03px;font-size:13.2px;-webkit-text-stroke:0.25px #2f2f31;color:#2f2f31;transform-origin:0 0;transform:scaleX(0.9304)">250L</span><span class="t" style="left:620.80px;top:332.03px;font-size:13.2px;-webkit-text-stroke:0.25px #2f2f31;color:#2f2f31;transform-origin:0 0;transform:scaleX(0.9022)">250B</span><span class="t" style="left:684.10px;top:330.08px;font-size:9px;-webkit-text-stroke:0.25px #4d59a3;color:#4d59a3;transform-origin:0 0;transform:scaleX(0.9485)">52</span><span class="t" style="left:648.60px;top:363.98px;font-size:9px;-webkit-text-stroke:0.25px #4d59a3;color:#4d59a3;transform-origin:0 0;transform:scaleX(0.9385)">46</span><span class="t" style="left:743.30px;top:397.88px;font-size:9px;-webkit-text-stroke:0.25px #4d59a3;color:#4d59a3;transform-origin:0 0;transform:scaleX(0.8986)">54</span><span class="t" style="left:709.10px;top:432.58px;font-size:9px;-webkit-text-stroke:0.25px #4d59a3;color:#4d59a3;transform-origin:0 0;transform:scaleX(0.9285)">49</span><span class="t" style="left:788.30px;top:514.08px;font-size:9px;-webkit-text-stroke:0.25px #4d59a3;color:#4d59a3;transform-origin:0 0;transform:scaleX(0.9485)">53</span><span class="t" style="left:825.30px;top:511.78px;font-size:9px;-webkit-text-stroke:0.25px #4d59a3;color:#4d59a3;transform-origin:0 0;transform:scaleX(0.9785)">57</span><span class="t" style="left:901.80px;top:256.07px;font-size:12.2px;-webkit-text-stroke:0.25px #cf3a45;color:#cf3a45;transform-origin:0 0;transform:scaleX(0.9000)">300</span><span class="t" style="left:901.80px;top:343.81px;font-size:12.2px;-webkit-text-stroke:0.25px #cf3a45;color:#cf3a45;transform-origin:0 0;transform:scaleX(0.9000)">200</span><span class="t" style="left:901.80px;top:431.54px;font-size:12.2px;-webkit-text-stroke:0.25px #cf3a45;color:#cf3a45;transform-origin:0 0;transform:scaleX(0.9000)">100</span><span class="t" style="left:901.80px;top:519.27px;font-size:12.2px;-webkit-text-stroke:0.25px #cf3a45;color:#cf3a45;transform-origin:0 0;transform:scaleX(0.9000)">0</span><span class="t" style="left:896.00px;top:239.57px;font-size:12.2px;-webkit-text-stroke:0.25px #cf3a45;color:#cf3a45;transform-origin:0 0;transform:scaleX(0.8767)">P(W )</span><span class="t" style="left:541.40px;top:230.73px;font-size:13.2px;-webkit-text-stroke:0.25px #333335;color:#333335;transform-origin:0 0;transform:scaleX(0.8800)">p</span><span class="t" style="left:548.10px;top:235.97px;font-size:7.6px;-webkit-text-stroke:0.25px #333335;color:#333335;transform-origin:0 0;transform:scaleX(1.1652)">sf</span><span class="t" style="left:558.00px;top:233.94px;font-size:10px;-webkit-text-stroke:0.25px #333335;color:#333335;transform-origin:0 0;transform:scaleX(1.0050)">(Pa)</span><span class="t" style="left:874.70px;top:533.24px;font-size:12px;-webkit-text-stroke:0.25px #333335;color:#333335;transform-origin:0 0;transform:scaleX(0.8500)">q</span><span class="t" style="left:880.00px;top:537.45px;font-size:7.5px;-webkit-text-stroke:0.25px #333335;color:#333335;transform-origin:0 0;transform:scaleX(0.8000)">v</span><span class="t" style="left:885.00px;top:533.58px;font-size:11.6px;-webkit-text-stroke:0.25px #333335;color:#333335;transform-origin:0 0;transform:scaleX(0.9784)">[m³/h]</span><span class="t" style="left:875.60px;top:557.78px;font-size:11.6px;-webkit-text-stroke:0.25px #333335;color:#333335;transform-origin:0 0;transform:scaleX(0.8500)">q</span><span class="t" style="left:880.80px;top:561.65px;font-size:7.5px;-webkit-text-stroke:0.25px #333335;color:#333335;transform-origin:0 0;transform:scaleX(0.8000)">v</span><span class="t" style="left:886.50px;top:557.95px;font-size:11.4px;-webkit-text-stroke:0.25px #333335;color:#333335;transform-origin:0 0;transform:scaleX(0.9654)">[m³/s]</span><span class="t" style="left:176.00px;top:226.93px;font-size:13.2px;-webkit-text-stroke:0.25px #2a2a2a;color:#2a2a2a;">A</span><span class="t" style="left:112.70px;top:248.33px;font-size:13.2px;-webkit-text-stroke:0.25px #2a2a2a;color:#2a2a2a;">B</span><span class="t" style="left:238.10px;top:248.33px;font-size:13.2px;-webkit-text-stroke:0.25px #2a2a2a;color:#2a2a2a;">B</span><span class="t" style="left:271.60px;top:376.82px;font-size:13.2px;-webkit-text-stroke:0.25px #2a2a2a;color:#2a2a2a;transform-origin:0 11.17px;transform:rotate(-90deg) scaleX(1.0000)">DØ</span><span class="t" style="left:302.20px;top:376.82px;font-size:13.2px;-webkit-text-stroke:0.25px #2a2a2a;color:#2a2a2a;transform-origin:0 11.17px;transform:rotate(-90deg) scaleX(1.0000)">CØ</span>
</body></html>
